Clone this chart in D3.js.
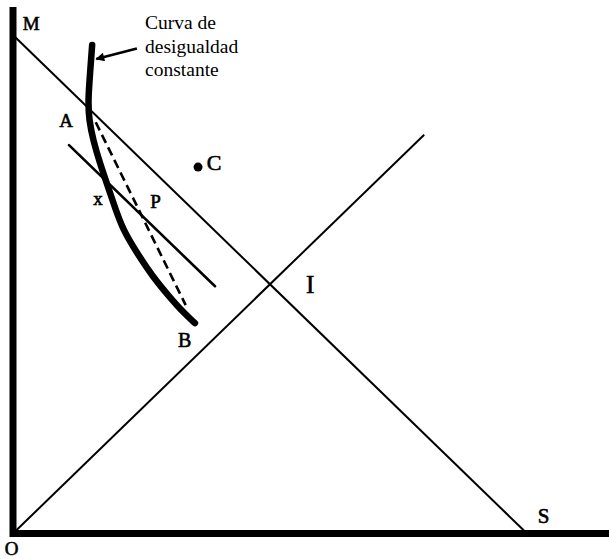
<!DOCTYPE html>
<html>
<head>
<meta charset="utf-8">
<script src="https://cdn.jsdelivr.net/npm/d3@7"></script>
<style>
  body { margin: 0; background: #fff; }
</style>
</head>
<body>
<div id="chart"></div>
<script>
// diagram values, in the chart's own units (O = 0,0 ; M = 0,100 ; S = 100,0)
const axisTop = 105.6;
const axisRight = 116;
const budgetLine = [[0, 100], [100, 0]];          // M - S
const equalityLine = [[0, 0], [80, 80]];           // O - I and beyond
const shortLine = [[10.9, 77.9], [39.3, 49.6]];    // line through x and P
const chordAB = [[16.1, 82.5], [33.6, 45.8]];      // dashed A - B
const curvePts = [
    [15.4, 98.0], [15.0, 92.4], [14.6, 86.9], [14.8, 82.9], [15.6, 78.9],
    [16.9, 74.3], [18.5, 69.5], [19.8, 65.5], [21.4, 60.9], [24.1, 56.3],
    [27.2, 51.5], [30.5, 47.4], [33.1, 44.4], [35.4, 42.2]
];
const pointC = [36.0, 73.5];
const arrow = [[24.1, 97.3], [16.2, 95.2]];
const curveNote = ["Curva de", "desigualdad", "constante"];
const notePos = [25.7, 101.2];
const labels = [
    {t: "M", x: 1.9, y: 101.0, s: 19},
    {t: "A", x: 9.0, y: 81.5, s: 19},
    {t: "x", x: 15.6, y: 65.9, s: 19},
    {t: "P", x: 26.7, y: 65.3, s: 19},
    {t: "C", x: 37.7, y: 72.9, s: 22},
    {t: "B", x: 32.1, y: 37.4, s: 20},
    {t: "I", x: 57.0, y: 48.2, s: 25},
    {t: "S", x: 102.1, y: 2.1, s: 21},
    {t: "O", x: -1.6, y: -4.3, s: 19}
];

const width = 609, height = 559;
const serif = "'Liberation Serif', 'Times New Roman', serif";

const svg = d3.select("#chart")
    .append("svg")
    .attr("width", width)
    .attr("height", height);

let x = d3.scaleLinear().domain([0, 100]).range([13, 527]);
let y = d3.scaleLinear().domain([0, 100]).range([533.5, 35]);

let line = d3.line().x(d => x(d[0])).y(d => y(d[1]));

// thin lines
svg.append("path").attr("d", line(budgetLine))
    .attr("stroke", "#000").attr("stroke-width", 2).attr("fill", "none");
svg.append("path").attr("d", line(equalityLine))
    .attr("stroke", "#000").attr("stroke-width", 2).attr("fill", "none");
svg.append("path").attr("d", line(shortLine))
    .attr("stroke", "#000").attr("stroke-width", 2.6).attr("fill", "none")
    .attr("stroke-linecap", "round");
svg.append("path").attr("d", line(chordAB))
    .attr("stroke", "#000").attr("stroke-width", 2.6).attr("fill", "none")
    .attr("stroke-dasharray", "9,5");

// constant inequality curve
svg.append("path")
    .attr("d", d3.line().x(d => x(d[0])).y(d => y(d[1])).curve(d3.curveBasis)(curvePts))
    .attr("stroke", "#000").attr("stroke-width", 6.5).attr("fill", "none")
    .attr("stroke-linecap", "round");

// axes
svg.append("path").attr("d", line([[0, axisTop], [0, 0], [axisRight, 0]]))
    .attr("stroke", "#000").attr("stroke-width", 7).attr("fill", "none")
    .attr("stroke-linejoin", "miter");

// point C
svg.append("circle")
    .attr("cx", x(pointC[0])).attr("cy", y(pointC[1])).attr("r", 4.5)
    .attr("fill", "#000");

// arrow to the curve
svg.append("defs").append("marker")
    .attr("id", "head").attr("viewBox", "0 0 10 10")
    .attr("refX", 9).attr("refY", 5)
    .attr("markerWidth", 4.2).attr("markerHeight", 3.4)
    .attr("markerUnits", "strokeWidth")
    .attr("orient", "auto")
    .append("path").attr("d", "M0,0 L10,5 L0,10 Z").attr("fill", "#000");
svg.append("path").attr("d", line(arrow))
    .attr("stroke", "#000").attr("stroke-width", 2.6).attr("fill", "none")
    .attr("marker-end", "url(#head)");

// curve note
let note = svg.append("text")
    .attr("x", x(notePos[0])).attr("y", y(notePos[1]))
    .attr("font-family", serif)
    .attr("font-size", 19.5)
    .attr("fill", "#000");
note.selectAll("tspan").data(curveNote).enter().append("tspan")
    .attr("x", x(notePos[0]))
    .attr("dy", (d, i) => i == 0 ? 0 : 23.5)
    .attr("font-family", serif)
    .text(d => d);

// point labels
svg.selectAll("text.lbl").data(labels).enter().append("text")
    .attr("class", "lbl")
    .attr("x", d => x(d.x)).attr("y", d => y(d.y))
    .attr("font-family", serif)
    .attr("font-size", d => d.s)
    .attr("fill", "#000")
    .attr("stroke", "#000").attr("stroke-width", 0.6)
    .text(d => d.t);
</script>
</body>
</html>
